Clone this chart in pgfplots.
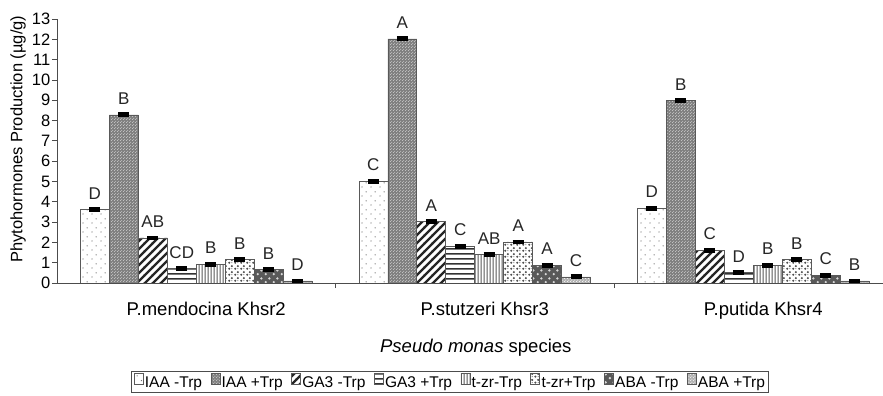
\documentclass[border=0pt]{standalone}
\usepackage{pgfplots}
\pgfplotsset{compat=1.18}
\usepackage{pgfplotstable}
\usepackage{fontspec}
\setmainfont{Liberation Sans}
\usetikzlibrary{patterns}
\newcommand\fs[1]{\fontsize{#1}{#1}\selectfont}

\pgfdeclarepatternformonly{sparsedots}{\pgfqpoint{0pt}{0pt}}{\pgfqpoint{9pt}{9pt}}{\pgfqpoint{9pt}{9pt}}{%
 \pgfpathcircle{\pgfqpoint{2.25pt}{2.25pt}}{0.75pt}%
 \pgfpathcircle{\pgfqpoint{6.75pt}{6.75pt}}{0.75pt}%
 \pgfusepath{fill}}
\pgfdeclarepatternformonly{finedots}{\pgfqpoint{0pt}{0pt}}{\pgfqpoint{3pt}{3pt}}{\pgfqpoint{3pt}{3pt}}{%
 \pgfpathcircle{\pgfqpoint{0.75pt}{0.75pt}}{0.6pt}%
 \pgfpathcircle{\pgfqpoint{2.25pt}{2.25pt}}{0.6pt}%
 \pgfusepath{fill}}
\pgfdeclarepatternformonly{thickdiag}{\pgfqpoint{-1pt}{-1pt}}{\pgfqpoint{9pt}{9pt}}{\pgfqpoint{8pt}{8pt}}{%
 \pgfsetlinewidth{2.4pt}\pgfpathmoveto{\pgfqpoint{-1pt}{-1pt}}\pgfpathlineto{\pgfqpoint{9pt}{9pt}}\pgfusepath{stroke}}
\pgfdeclarepatternformonly{hlines}{\pgfqpoint{0pt}{0pt}}{\pgfqpoint{5pt}{5pt}}{\pgfqpoint{5pt}{5pt}}{%
 \pgfsetlinewidth{1.7pt}\pgfpathmoveto{\pgfqpoint{-1pt}{2.5pt}}\pgfpathlineto{\pgfqpoint{6pt}{2.5pt}}\pgfusepath{stroke}}
\pgfdeclarepatternformonly{vlines}{\pgfqpoint{0pt}{0pt}}{\pgfqpoint{2.6pt}{2.6pt}}{\pgfqpoint{2.6pt}{2.6pt}}{%
 \pgfsetlinewidth{1.1pt}\pgfpathmoveto{\pgfqpoint{1.3pt}{-1pt}}\pgfpathlineto{\pgfqpoint{1.3pt}{3.6pt}}\pgfusepath{stroke}}
\pgfdeclarepatternformonly{blobs}{\pgfqpoint{0pt}{0pt}}{\pgfqpoint{6pt}{6pt}}{\pgfqpoint{6pt}{6pt}}{%
 \pgfpathcircle{\pgfqpoint{1.5pt}{1.5pt}}{1.3pt}%
 \pgfpathcircle{\pgfqpoint{4.5pt}{4.5pt}}{1.3pt}%
 \pgfpathcircle{\pgfqpoint{4.5pt}{1.5pt}}{0.6pt}%
 \pgfusepath{fill}}
\pgfdeclarepatternformonly{rings}{\pgfqpoint{0pt}{0pt}}{\pgfqpoint{8pt}{8pt}}{\pgfqpoint{8pt}{8pt}}{%
 \pgfpathcircle{\pgfqpoint{2pt}{2pt}}{1.4pt}%
 \pgfpathcircle{\pgfqpoint{6pt}{6pt}}{1.4pt}%
 \pgfusepath{fill}}

\pgfplotstableread{
x  a     b     c     d     e     f     g     h     la lb lc ld le lf lg lh err
0  3.62  8.28  2.22  0.70  0.92  1.15  0.66  0.10  D  B  AB CD B  B  B  D  0.05
1  5.00  12.02 3.02  1.80  1.40  2.02  0.87  0.30  C  A  A  C  AB A  A  C  0.05
2  3.68  8.98  1.62  0.52  0.87  1.15  0.38  0.10  D  B  C  D  B  B  C  B  0.05
}\datatable

\begin{document}
\begin{tikzpicture}
\begin{axis}[
  at={(57pt,113pt)}, anchor=south west,
  scale only axis, width=826pt, height=264pt,
  ybar=0pt, bar width=0.104,
  xmin=-0.5, xmax=2.466, ymin=0, ymax=13,
  enlargelimits=false,
  axis x line*=bottom, axis y line*=left,
  axis line style={black!70, line width=0.8pt},
  tick style={black!70, line width=0.8pt},
  major tick length=5pt, tick align=outside,
  ytick={0,1,...,13},
  /pgf/number format/assume math mode=true,
  yticklabel style={font=\fs{16.5}, inner sep=1.5pt},
  xtick={0,1,2},
  xticklabels={P.mendocina Khsr2, P.stutzeri Khsr3, P.putida Khsr4},
  xticklabel style={font=\fs{18.5}, xshift=10pt, yshift=-11pt},
  xtick style={draw=none},
  extra x ticks={0.5,1.5},
  extra x tick labels={},
  extra x tick style={xtick style={draw=black!70}},
  ylabel={Phytohormones Production (µg/g)},
  ylabel style={font=\fs{16.5}, at={(axis description cs:-0.047,0.545)}, anchor=center},
  xlabel={\textit{Pseudo monas} species},
  xlabel style={font=\fs{18.5}, at={(axis description cs:0.507,-0.245)}, anchor=center},
  point meta=explicit symbolic,
  nodes near coords,
  every node near coord/.append style={font=\fs{17}, anchor=south, inner sep=2pt, yshift=8pt, black!85},
  error bars/y dir=both, error bars/y explicit,
  error bars/error bar style={black, line width=1pt},
  error bars/error mark options={rotate=90, mark size=5.5pt, line width=2.8pt, black},
  legend columns=8,
  legend style={at={(axis description cs:0.476,-0.333)}, anchor=north,
    draw=black!70, line width=0.8pt, font=\fs{15.5},
    inner xsep=2pt, inner ysep=1.5pt,
    /tikz/every even column/.append style={column sep=7pt},
    nodes={inner xsep=1.5pt}},
  legend image code/.code={\draw[#1, line width=0.6pt] (0pt,-1pt) rectangle (9pt,10pt);},
  bstyle/.style={draw=black!65, line width=0.7pt},
]
\addplot[bstyle, fill=white, postaction={pattern=sparsedots, pattern color=black!55}] table[x=x, y=a, y error=err, meta=la] {\datatable};
\addplot[bstyle, fill=black!50, postaction={pattern=finedots, pattern color=white!85!black}] table[x=x, y=b, y error=err, meta=lb] {\datatable};
\addplot[bstyle, fill=white, postaction={pattern=thickdiag, pattern color=black!85}] table[x=x, y=c, y error=err, meta=lc] {\datatable};
\addplot[bstyle, fill=white, postaction={pattern=hlines, pattern color=black!80}] table[x=x, y=d, y error=err, meta=ld] {\datatable};
\addplot[bstyle, fill=white, postaction={pattern=vlines, pattern color=black!65}] table[x=x, y=e, y error=err, meta=le] {\datatable};
\addplot[bstyle, fill=white, postaction={pattern=blobs, pattern color=black!70}] table[x=x, y=f, y error=err, meta=lf] {\datatable};
\addplot[bstyle, fill=black!65, postaction={pattern=rings, pattern color=white!85!black}] table[x=x, y=g, y error=err, meta=lg] {\datatable};
\addplot[bstyle, fill=black!30, postaction={pattern=finedots, pattern color=white}] table[x=x, y=h, y error=err, meta=lh] {\datatable};
\legend{IAA -Trp, IAA +Trp, GA3 -Trp, GA3 +Trp, t-zr-Trp, t-zr+Trp, ABA -Trp, ABA +Trp}
\end{axis}
\pgfresetboundingbox
\path[use as bounding box] (0,0) rectangle (883pt,396pt);
\end{tikzpicture}
\end{document}
